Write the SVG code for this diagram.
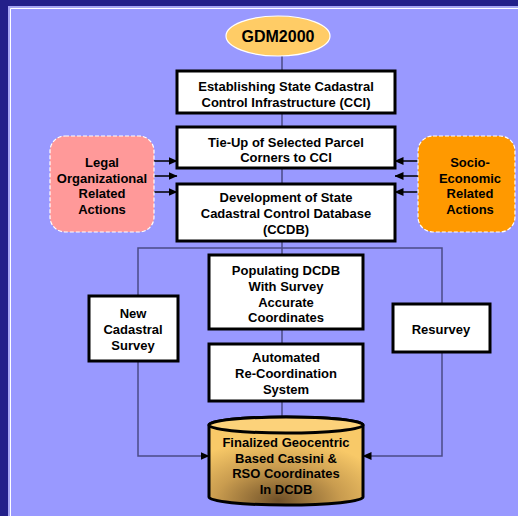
<svg xmlns="http://www.w3.org/2000/svg" width="518" height="516" viewBox="0 0 518 516">
  <defs>
    <marker id="arrow" markerWidth="9" markerHeight="8" refX="8.5" refY="4" orient="auto" markerUnits="userSpaceOnUse">
      <path d="M0,0 L9,4 L0,8 Z" fill="#000"/>
    </marker>
    <radialGradient id="gold" cx="0.45" cy="1.0" r="0.75" fx="0.45" fy="0.95">
      <stop offset="0" stop-color="#6f5028"/>
      <stop offset="0.55" stop-color="#c99c4f"/>
      <stop offset="1" stop-color="#f8c968"/>
    </radialGradient>
    <style>
      .box { fill: #fff; stroke: #000; stroke-width: 3; }
      .lbl { font-family: "Liberation Sans", Arial, sans-serif; font-weight: bold; font-size: 13px; fill: #000; text-anchor: middle; }
      .wire { fill: none; stroke: #4b4b86; stroke-width: 1.5; }
      .push { fill: none; stroke: #000; stroke-width: 1.5; marker-end: url(#arrow); }
      .side { stroke: #fff; stroke-width: 1.2; stroke-dasharray: 4 2; }
    </style>
  </defs>

  <!-- frame and panel -->
  <rect x="0" y="0" width="518" height="516" fill="#23208a"/>
  <rect x="8" y="6" width="510" height="510" fill="#a6a6f4"/>
  <rect x="11" y="9" width="507" height="507" fill="#9999ff"/>
  <path d="M10.5,516 V8.5 H518" fill="none" stroke="#fff" stroke-width="1"/>

  <!-- connectors -->
  <g id="connectors">
    <path class="wire" d="M282,56 V71"/>
    <path class="wire" d="M282,113 V127"/>
    <path class="wire" d="M282,168 V184"/>
    <path class="wire" d="M282,241 V248"/>
    <path class="wire" d="M138,296 V248 H442 V304"/>
    <path class="wire" d="M282,248 V255"/>
    <path class="wire" d="M282,329 V344"/>
    <path class="wire" d="M282,401 V424" marker-end="url(#arrow)"/>
    <path class="wire" d="M138,361 V456 H209" marker-end="url(#arrow)"/>
    <path class="wire" d="M442,352 V456 H363" marker-end="url(#arrow)"/>
    <path class="push" d="M154,161 H177"/>
    <path class="push" d="M154,176 H177"/>
    <path class="push" d="M154,192 H177"/>
    <path class="push" d="M418,161 H395"/>
    <path class="push" d="M418,176 H395"/>
    <path class="push" d="M418,192 H395"/>
  </g>

  <g id="gdm2000">
    <ellipse cx="278" cy="36" rx="52" ry="20" fill="#ffcc66" stroke="#fff" stroke-width="1.2"/>
    <text class="lbl" x="278" y="41.5" style="font-size:16px">GDM2000</text>
  </g>

  <g id="cci">
    <rect class="box" x="177" y="71" width="218" height="42"/>
    <text class="lbl" x="286" y="90.5">Establishing State Cadastral</text>
    <text class="lbl" x="286" y="106.5">Control Infrastructure (CCI)</text>
  </g>

  <g id="tieup">
    <rect class="box" x="177" y="127" width="218" height="41"/>
    <text class="lbl" x="286" y="146.5">Tie-Up of Selected Parcel</text>
    <text class="lbl" x="286" y="161.5">Corners to CCI</text>
  </g>

  <g id="ccdb">
    <rect class="box" x="177" y="184" width="218" height="57"/>
    <text class="lbl" x="286" y="201.5">Development of State</text>
    <text class="lbl" x="286" y="217.5">Cadastral Control Database</text>
    <text class="lbl" x="286" y="233.5">(CCDB)</text>
  </g>

  <g id="legal">
    <rect class="side" x="50" y="136" width="104" height="96" rx="15" fill="#ff9999"/>
    <text class="lbl" x="102" y="166.5">Legal</text>
    <text class="lbl" x="102" y="182.5">Organizational</text>
    <text class="lbl" x="102" y="197.5">Related</text>
    <text class="lbl" x="102" y="213.5">Actions</text>
  </g>

  <g id="socio">
    <rect class="side" x="418" y="136" width="97" height="96" rx="15" fill="#ff9900"/>
    <text class="lbl" x="470" y="166.5">Socio-</text>
    <text class="lbl" x="470" y="182.5">Economic</text>
    <text class="lbl" x="470" y="197.5">Related</text>
    <text class="lbl" x="470" y="213.5">Actions</text>
  </g>

  <g id="populating">
    <rect class="box" x="209" y="255" width="154" height="74"/>
    <text class="lbl" x="286" y="274.5">Populating DCDB</text>
    <text class="lbl" x="286" y="290.5">With Survey</text>
    <text class="lbl" x="286" y="306.5">Accurate</text>
    <text class="lbl" x="286" y="322">Coordinates</text>
  </g>

  <g id="recoord">
    <rect class="box" x="209" y="344" width="154" height="57"/>
    <text class="lbl" x="286" y="361.5">Automated</text>
    <text class="lbl" x="286" y="377.5">Re-Coordination</text>
    <text class="lbl" x="286" y="393.5">System</text>
  </g>

  <g id="newsurvey">
    <rect class="box" x="89" y="296" width="89" height="65"/>
    <text class="lbl" x="133" y="317.5">New</text>
    <text class="lbl" x="133" y="333.5">Cadastral</text>
    <text class="lbl" x="133" y="350">Survey</text>
  </g>

  <g id="resurvey">
    <rect class="box" x="393" y="304" width="97" height="48"/>
    <text class="lbl" x="441" y="333.5">Resurvey</text>
  </g>

  <g id="dcdb">
    <path d="M209,425 A77,8 0 0 1 363,425 V497 A77,8 0 0 1 209,497 Z" fill="url(#gold)" stroke="#000" stroke-width="3"/>
    <ellipse cx="286" cy="425" rx="77" ry="8" fill="#fcd27a" stroke="#000" stroke-width="3"/>
    <text class="lbl" x="286" y="446.5">Finalized Geocentric</text>
    <text class="lbl" x="286" y="462.5">Based Cassini &amp;</text>
    <text class="lbl" x="286" y="478">RSO Coordinates</text>
    <text class="lbl" x="286" y="494">In DCDB</text>
  </g>
</svg>
